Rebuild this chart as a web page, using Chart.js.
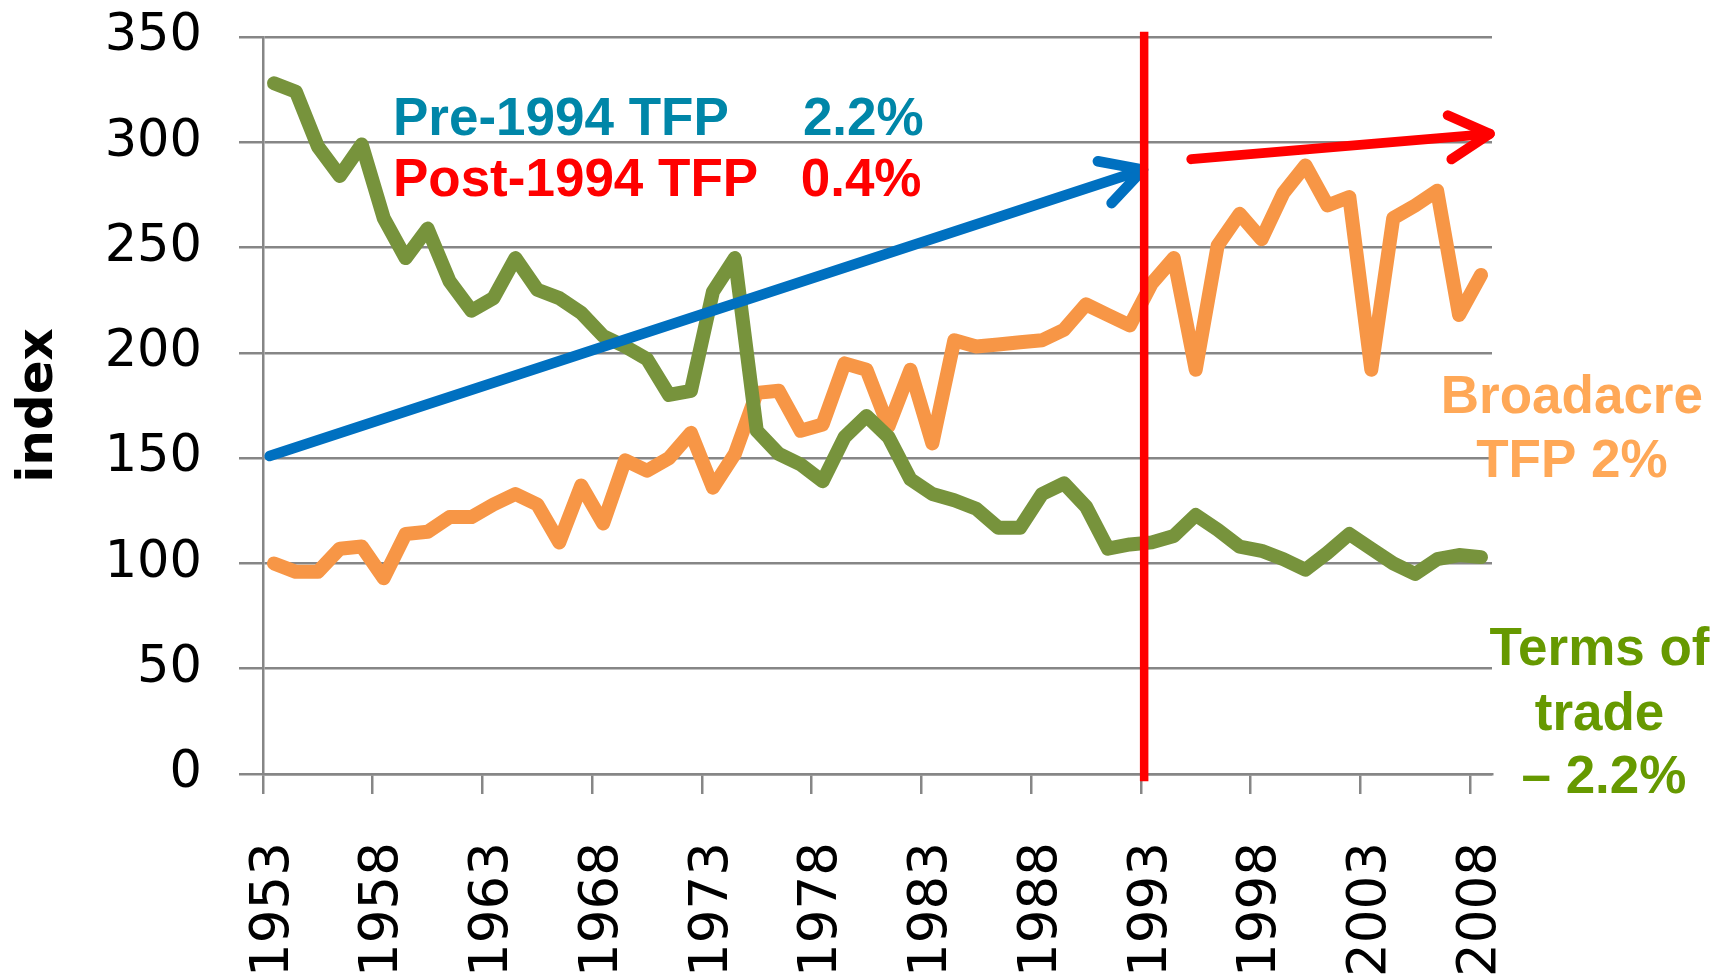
<!DOCTYPE html>
<html>
<head>
<meta charset="utf-8">
<script src="https://cdn.jsdelivr.net/npm/chart.js@4.4.1/dist/chart.umd.min.js"></script>
<style>
  html, body { margin: 0; padding: 0; background: #fff; }
  #wrap { width: 1733px; height: 979px; }
</style>
</head>
<body>
<div id="wrap"><canvas id="chart" width="1733" height="979"></canvas></div>
<script>
const years = [
  "1953", "1954", "1955", "1956", "1957", "1958", "1959", "1960", "1961", "1962",
  "1963", "1964", "1965", "1966", "1967", "1968", "1969", "1970", "1971", "1972",
  "1973", "1974", "1975", "1976", "1977", "1978", "1979", "1980", "1981", "1982",
  "1983", "1984", "1985", "1986", "1987", "1988", "1989", "1990", "1991", "1992",
  "1993", "1994", "1995", "1996", "1997", "1998", "1999", "2000", "2001", "2002",
  "2003", "2004", "2005", "2006", "2007", "2008",
];
const termsOfTrade = [
  328, 324, 298, 284, 299, 264, 245, 259, 234, 220,
  226, 245, 230, 226, 219, 208, 203, 197, 180, 182,
  229, 245, 163, 152, 147, 139, 160, 170, 160, 140,
  133, 130, 126, 117, 117, 133, 138, 127, 107, 109,
  110, 113, 123, 116, 108, 106, 102, 97, 105, 114,
  107, 100, 95, 102, 104, 103,
];
const broadacreTfp = [
  100, 96, 96, 107, 108, 93, 114, 115, 122, 122,
  128, 133, 128, 110, 137, 119, 149, 144, 150, 162,
  136, 152, 181, 182, 163, 166, 195, 192, 165, 192,
  157, 206, 203, 204, 205, 206, 211, 223, 218, 213,
  233, 245, 192, 251, 266, 254, 276, 289, 270, 274,
  192, 264, 270, 277, 218, 237,
];
// annotation anchors in data units: [category index, index value]
const preArrow = [[-0.2, 151], [39.6, 287]];
const postArrow = [[41.8, 292], [55.4, 304]];
const breakLine = [[39.65, 352.5], [39.65, -3.5]];
const notes = [
  { text: "Pre-1994 TFP", at: [5.42, 303.4], color: "#0086A8", align: "left" },
  { text: "2.2%", at: [24.1, 303.4], color: "#0086A8", align: "left" },
  { text: "Post-1994 TFP", at: [5.42, 274.5], color: "#FF0000", align: "left" },
  { text: "0.4%", at: [24.0, 274.5], color: "#FF0000", align: "left" },
  { text: "Broadacre", at: [59.14, 171.6], color: "#FFA857", align: "center" },
  { text: "TFP 2%", at: [59.14, 141.2], color: "#FFA857", align: "center" },
  { text: "Terms of", at: [60.4, 51.8], color: "#669900", align: "center" },
  { text: "trade", at: [60.4, 20.9], color: "#669900", align: "center" },
  { text: "\u2013 2.2%", at: [60.6, -9.0], color: "#669900", align: "center" },
];

const gridGray = "#868686";

function arrowLine(ctx, chart, pts, color, width, head) {
  const x = chart.scales.x, y = chart.scales.y;
  const x0 = x.getPixelForValue(pts[0][0]), y0 = y.getPixelForValue(pts[0][1]);
  const x1 = x.getPixelForValue(pts[1][0]), y1 = y.getPixelForValue(pts[1][1]);
  ctx.save();
  ctx.strokeStyle = color;
  ctx.lineWidth = width;
  ctx.lineCap = "round";
  ctx.lineJoin = "round";
  ctx.beginPath();
  ctx.moveTo(x0, y0);
  ctx.lineTo(x1, y1);
  ctx.stroke();
  const ang = Math.atan2(y1 - y0, x1 - x0);
  ctx.beginPath();
  ctx.moveTo(x1 - head * Math.cos(ang - 0.5), y1 - head * Math.sin(ang - 0.5));
  ctx.lineTo(x1, y1);
  ctx.lineTo(x1 - head * Math.cos(ang + 0.5), y1 - head * Math.sin(ang + 0.5));
  ctx.stroke();
  ctx.restore();
}

const annotations = {
  id: "annotations",
  afterDatasetsDraw(chart) {
    const ctx = chart.ctx;
    const x = chart.scales.x, y = chart.scales.y;
    arrowLine(ctx, chart, preArrow, "#0070C0", 10.5, 46);

    ctx.save();
    ctx.strokeStyle = "#FF0000";
    ctx.lineWidth = 8.5;
    ctx.beginPath();
    ctx.moveTo(x.getPixelForValue(breakLine[0][0]), y.getPixelForValue(breakLine[0][1]));
    ctx.lineTo(x.getPixelForValue(breakLine[1][0]), y.getPixelForValue(breakLine[1][1]));
    ctx.stroke();
    ctx.restore();

    arrowLine(ctx, chart, postArrow, "#FF0000", 10, 46);

    ctx.save();
    ctx.font = "bold 53px 'Liberation Sans', Arial, sans-serif";
    ctx.textBaseline = "alphabetic";
    notes.forEach((n) => {
      ctx.fillStyle = n.color;
      ctx.textAlign = n.align;
      ctx.fillText(n.text, x.getPixelForValue(n.at[0]), y.getPixelForValue(n.at[1]));
    });
    ctx.restore();
  },
};

new Chart(document.getElementById("chart"), {
  type: "line",
  data: {
    labels: years,
    datasets: [
      {
        label: "Terms of trade",
        data: termsOfTrade,
        borderColor: "#77933C",
        borderWidth: 14,
        pointRadius: 0,
        tension: 0,
        borderJoinStyle: "round",
        borderCapStyle: "round",
      },
      {
        label: "Broadacre TFP",
        data: broadacreTfp,
        borderColor: "#F79646",
        borderWidth: 14,
        pointRadius: 0,
        tension: 0,
        borderJoinStyle: "round",
        borderCapStyle: "round",
      },
    ],
  },
  options: {
    responsive: false,
    animation: false,
    layout: { padding: { top: 37, right: 241, left: 0, bottom: 0 } },
    plugins: { legend: { display: false }, tooltip: { enabled: false } },
    scales: {
      x: {
        offset: true,
        afterFit: (s) => { s.height = 205; },
        grid: {
          offset: true,
          drawOnChartArea: false,
          drawTicks: true,
          tickLength: 20,
          lineWidth: 2.5,
          color: (c) => (c.index % 5 === 0 ? gridGray : "rgba(0,0,0,0)"),
        },
        border: { display: true, color: gridGray, width: 2.5 },
        ticks: {
          autoSkip: false,
          minRotation: 90,
          maxRotation: 90,
          padding: 48,
          color: "#000",
          font: { family: "'DejaVu Sans'", size: 53 },
          callback: (v, i) => (i % 5 === 0 ? years[i] : ""),
        },
      },
      y: {
        min: 0,
        max: 350,
        afterFit: (s) => {
          s.width = 263;
          s.paddingTop = 0;
          s.paddingBottom = 0;
        },
        grid: { color: gridGray, lineWidth: 2.5, tickLength: 24 },
        border: { display: true, color: gridGray, width: 2.5 },
        ticks: {
          stepSize: 50,
          padding: 37,
          color: "#000",
          font: { family: "'DejaVu Sans'", size: 51 },
        },
        title: {
          display: true,
          text: "index",
          color: "#000",
          padding: { top: 9, bottom: 0 },
          font: { family: "'DejaVu Sans'", size: 50, weight: "bold" },
        },
      },
    },
  },
  plugins: [annotations],
});
</script>
</body>
</html>
